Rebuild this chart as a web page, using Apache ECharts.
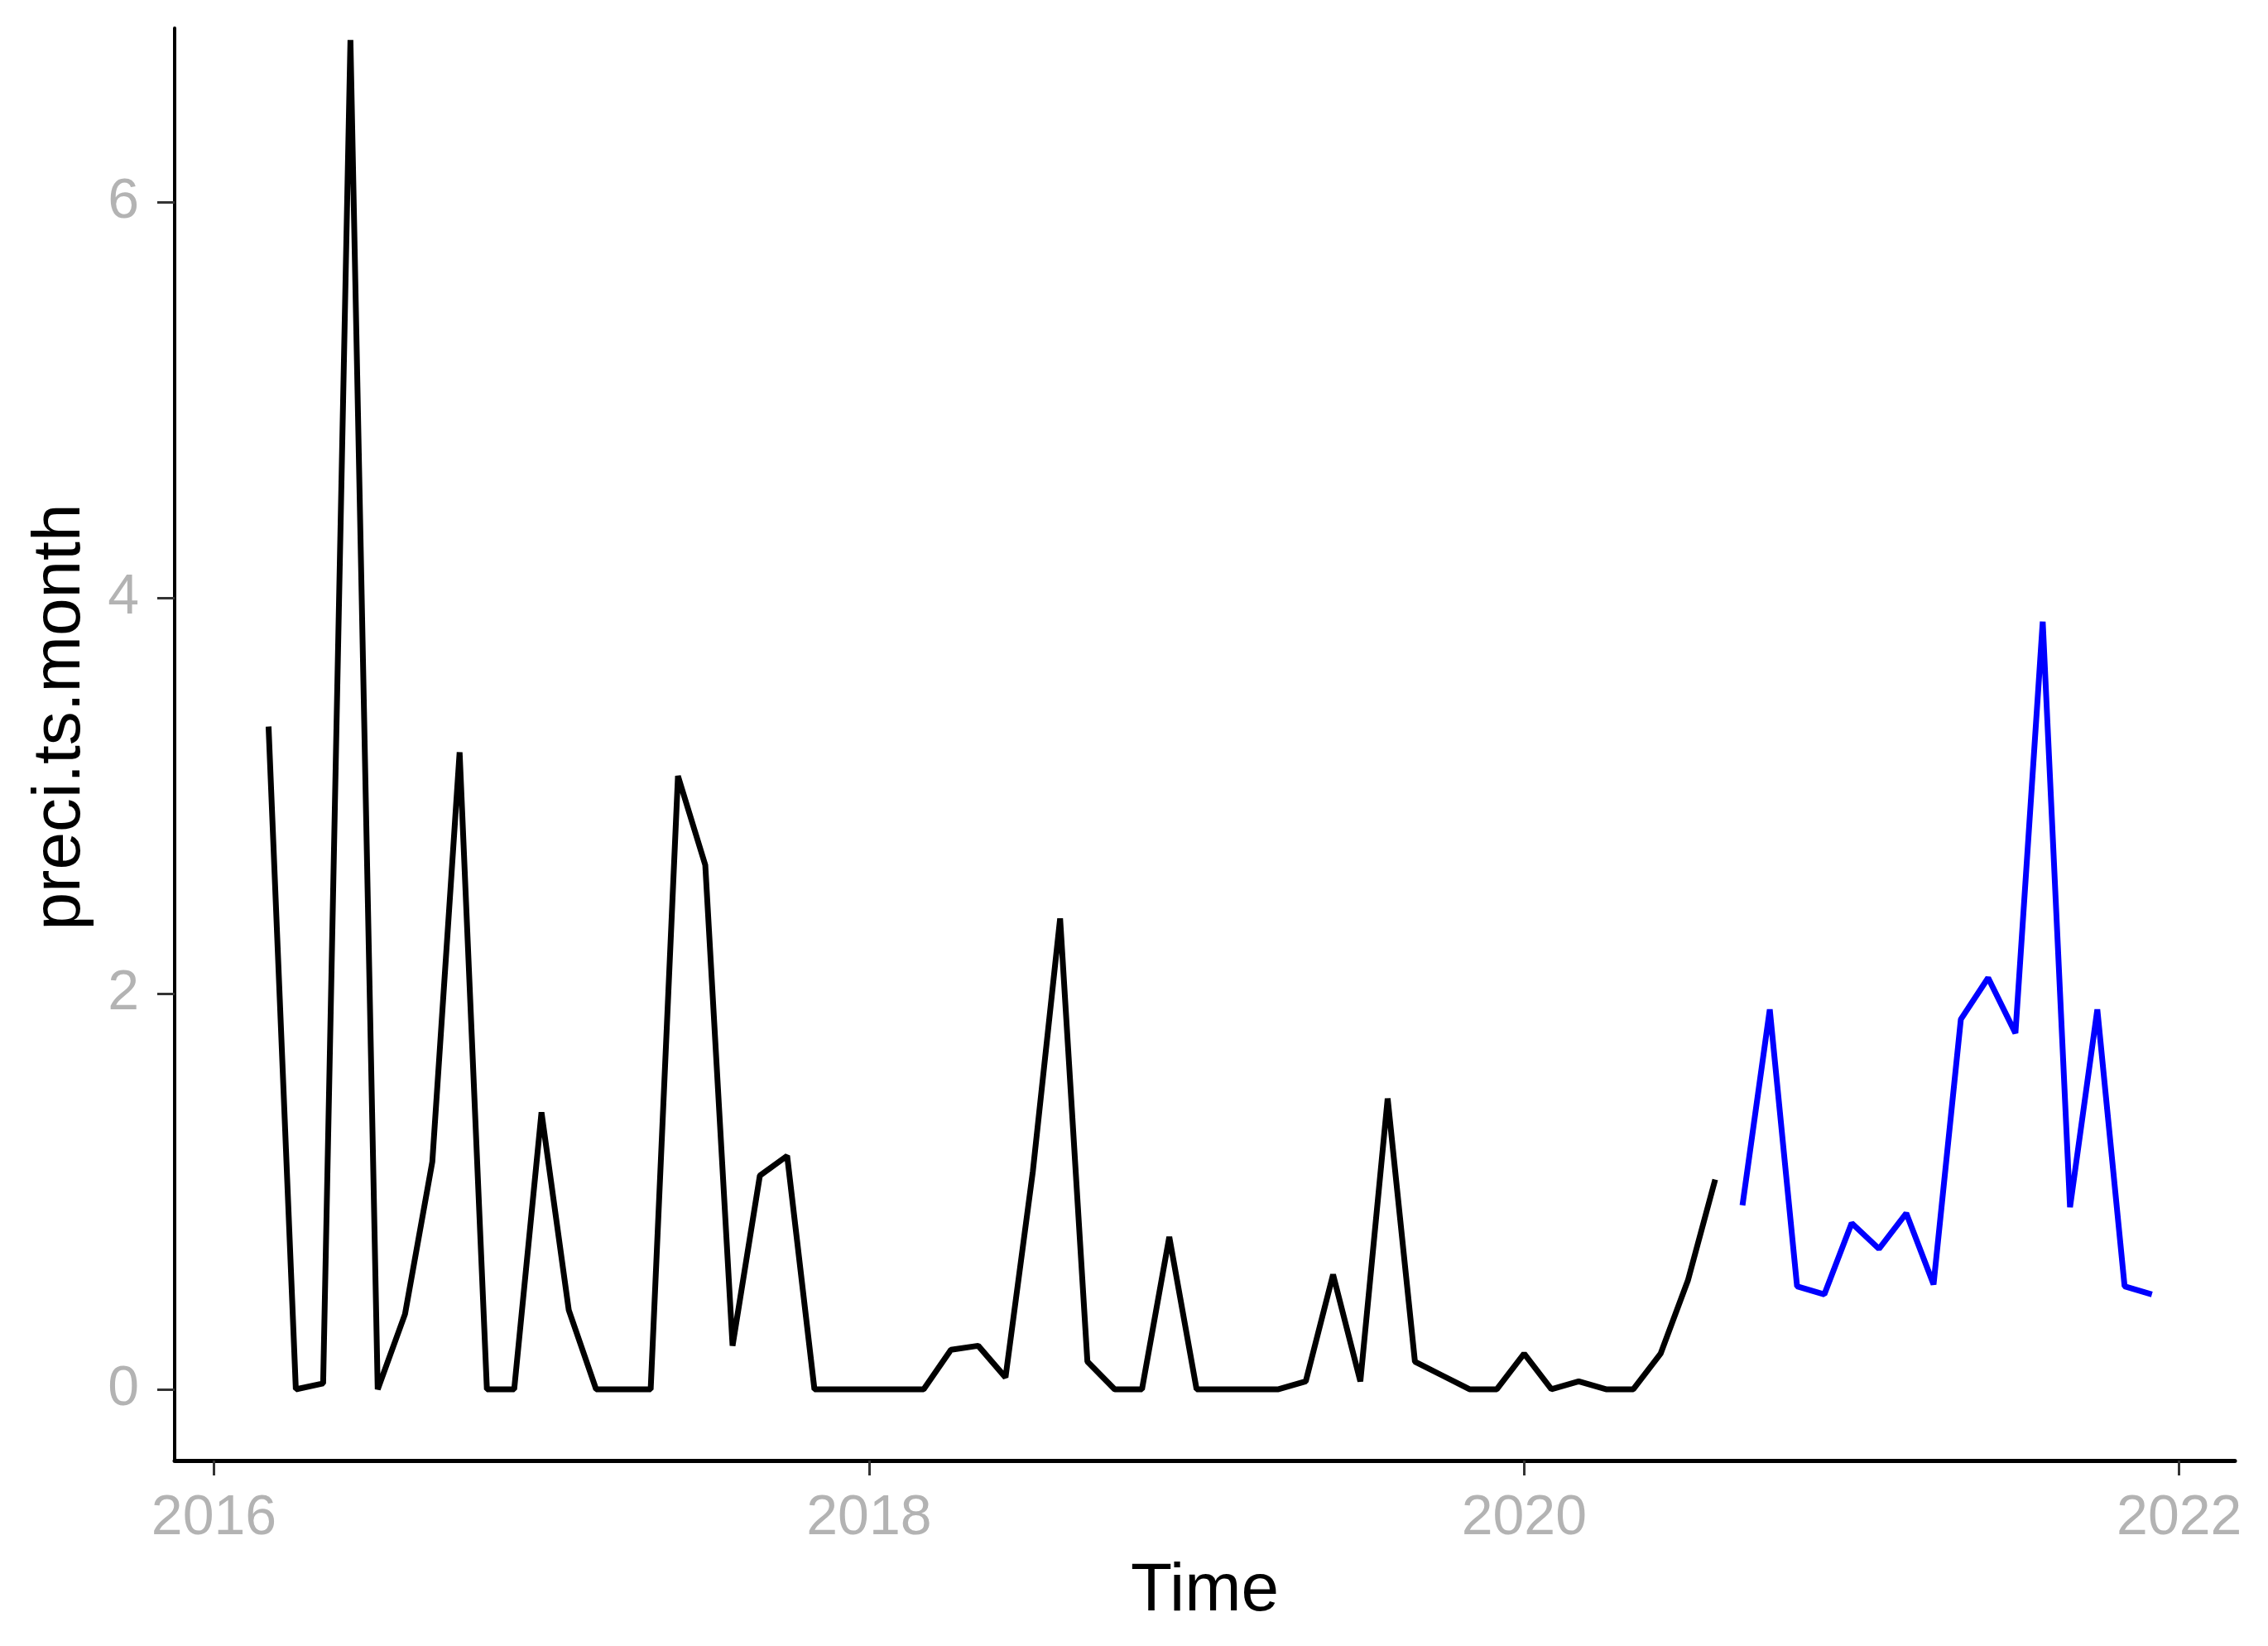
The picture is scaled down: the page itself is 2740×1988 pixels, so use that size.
<!DOCTYPE html>
<html>
<head>
<meta charset="utf-8">
<script src="https://cdn.jsdelivr.net/npm/echarts@6/dist/echarts.min.js"></script>
<style>
html,body{margin:0;padding:0;background:#fff;}
#chart{width:2740px;height:1988px;}
</style>
</head>
<body>
<div id="chart"></div>
<script>
// Observed monthly series, Mar 2016 .. Aug 2020
const observedStart = [2016, 3];
const observedValues = [3.35, 0, 0.03, 6.82, 0, 0.38, 1.15, 3.22, 0, 0, 1.40, 0.40,
  0, 0, 0, 3.10, 2.65, 0.22, 1.08, 1.18, 0, 0, 0, 0,
  0, 0.20, 0.22, 0.06, 1.10, 2.38, 0.14, 0, 0, 0.77, 0, 0,
  0, 0, 0.04, 0.58, 0.04, 1.47, 0.14, 0.07, 0, 0, 0.18, 0,
  0.04, 0, 0, 0.18, 0.55, 1.06];
// Forecast series, Sep 2020 .. Dec 2021
const forecastStart = [2020, 9];
const forecastValues = [0.93, 1.92, 0.52, 0.48, 0.84, 0.71, 0.89, 0.53,
  1.87, 2.08, 1.80, 3.88, 0.92, 1.92, 0.52, 0.48];
const xTicks = [2016, 2018, 2020, 2022];
const yTicks = [0, 2, 4, 6];

function toPairs(start, vals) {
  return vals.map((v, i) => [start[0] + (start[1] - 1 + i) / 12, v]);
}

const chart = echarts.init(document.getElementById('chart'));
const font = '"Liberation Sans", Arial, sans-serif';
chart.setOption({
  animation: false,
  backgroundColor: '#ffffff',
  grid: {left: 211, right: 40, top: 34, bottom: 224, containLabel: false, outerBoundsMode: 'none'},
  xAxis: {
    type: 'value', min: 2015.88, max: 2022.17,
    name: 'Time', nameLocation: 'middle', nameGap: 117,
    nameTextStyle: {fontFamily: font, fontSize: 82, color: '#000'},
    axisLine: {show: true, onZero: false, lineStyle: {color: '#000', width: 5}},
    axisTick: {show: true, customValues: xTicks, length: 18, lineStyle: {color: '#333', width: 3}},
    axisLabel: {customValues: xTicks, margin: 36, fontFamily: font, fontSize: 68, color: '#b3b3b3',
      formatter: v => String(Math.round(v))},
    splitLine: {show: false}
  },
  yAxis: {
    type: 'value', min: -0.36, max: 6.88,
    name: 'preci.ts.month', nameLocation: 'middle', nameGap: 97,
    nameTextStyle: {fontFamily: font, fontSize: 82, color: '#000', padding: [0, 0, 0, 66]},
    axisLine: {show: true, onZero: false, lineStyle: {color: '#000', width: 4}},
    axisTick: {show: true, customValues: yTicks, length: 21, lineStyle: {color: '#333', width: 3}},
    axisLabel: {customValues: yTicks, margin: 43, fontFamily: font, fontSize: 68, color: '#b3b3b3',
      formatter: v => String(Math.round(v))},
    splitLine: {show: false}
  },
  series: [
    {type: 'line', data: toPairs(observedStart, observedValues), showSymbol: false,
      lineStyle: {color: '#000', width: 7}, itemStyle: {color: '#000'}},
    {type: 'line', data: toPairs(forecastStart, forecastValues), showSymbol: false,
      lineStyle: {color: '#0000ff', width: 7}, itemStyle: {color: '#0000ff'}}
  ]
});
</script>
</body>
</html>
